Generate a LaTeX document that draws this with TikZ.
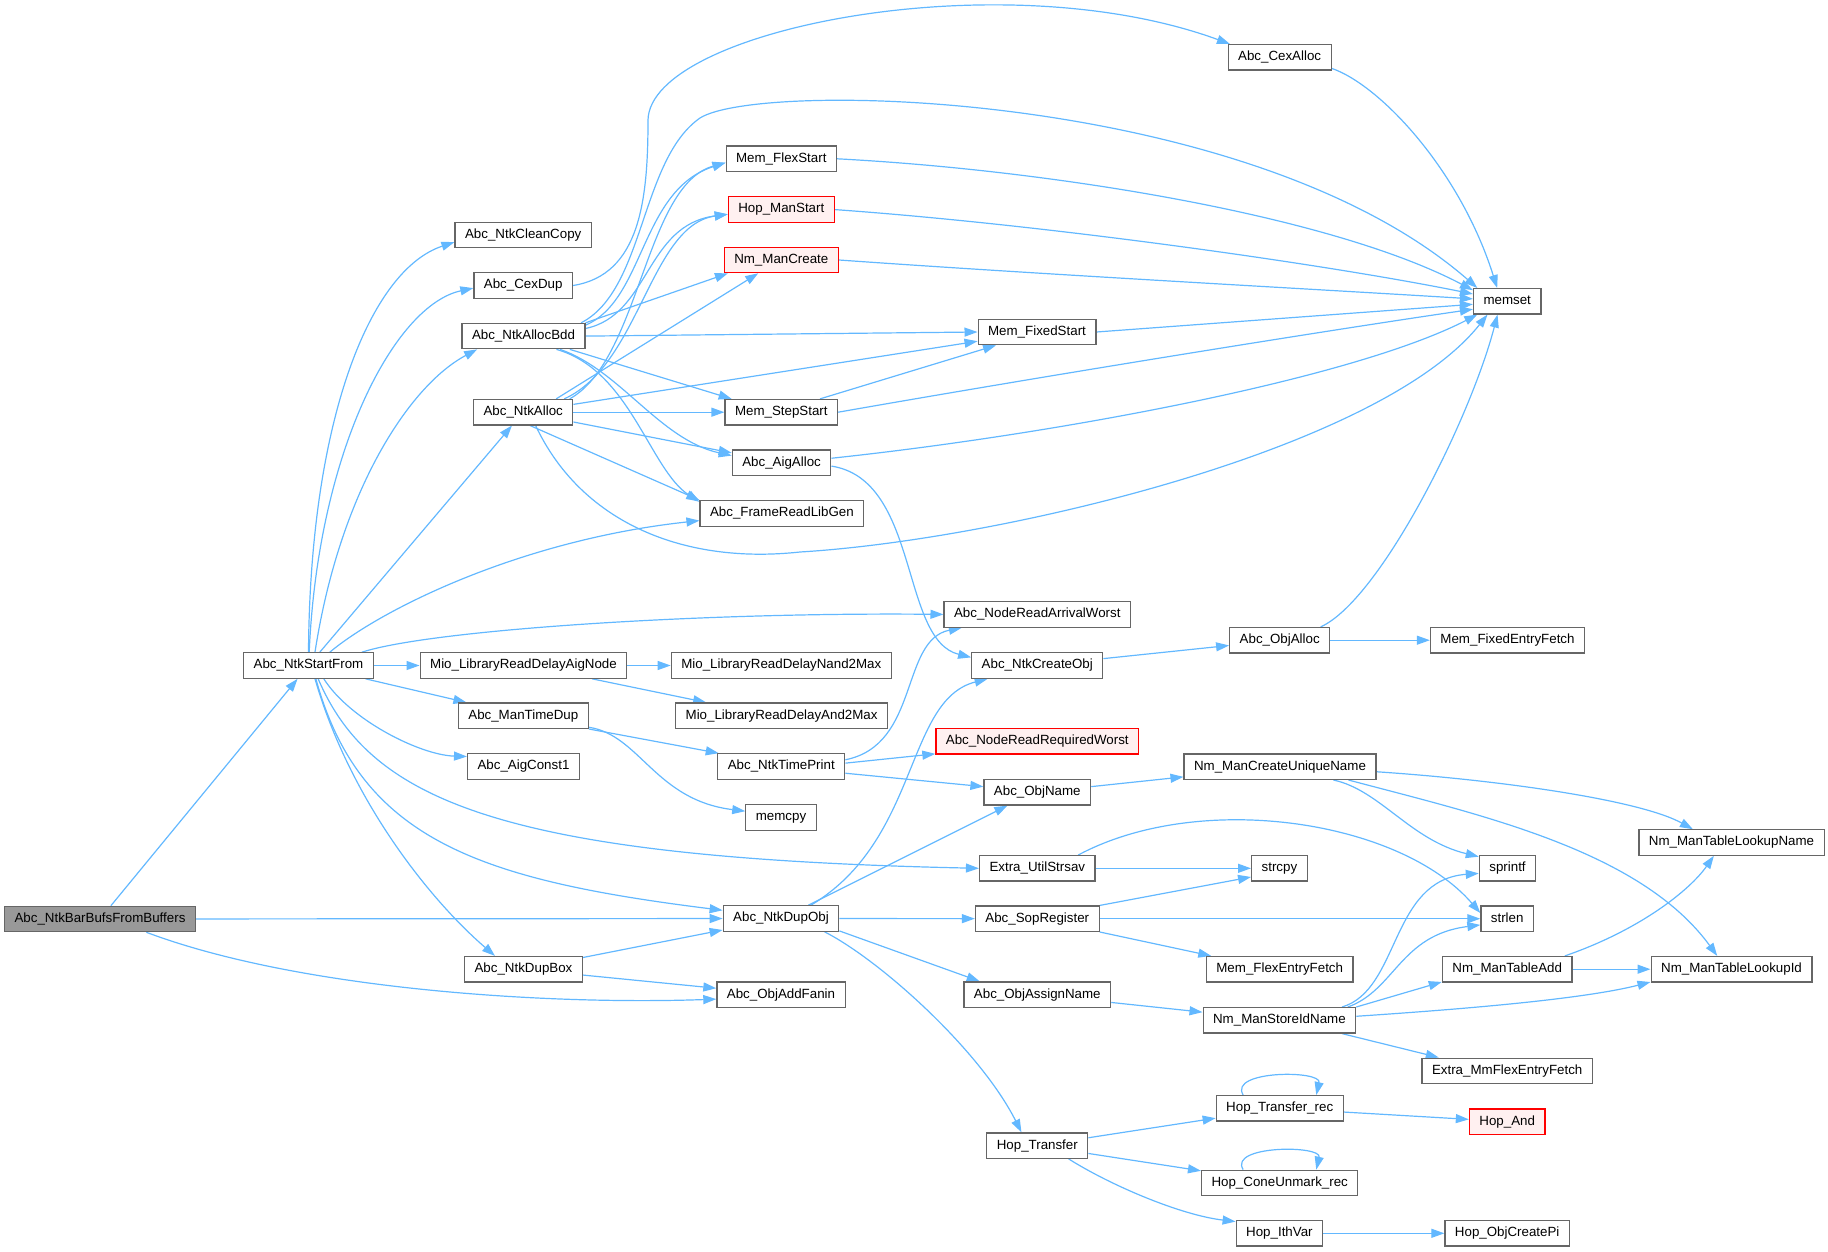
\documentclass[tikz,border=0pt]{standalone}
\usepackage{fontspec}
\usepackage{tikz}
\usetikzlibrary{arrows.meta,backgrounds}
\newfontfamily\graphfont{Liberation Sans}
\definecolor{Wire}{HTML}{63B8FF}
\definecolor{Frame}{HTML}{666666}
\definecolor{Root}{HTML}{999999}
\definecolor{Alert}{HTML}{FF0000}
\definecolor{Blush}{HTML}{FFF0F0}
\begin{document}
\begin{tikzpicture}[x=1pt,y=-1pt,
  fn/.style={draw=Frame,fill=white,line width=1.2pt,inner xsep=10pt,inner ysep=0pt,minimum height=25.4pt,text height=9.6pt,text depth=2.8pt,font=\graphfont\fontsize{13.33}{16}\selectfont},
  rootfn/.style={fn,fill=Root},
  warnfn/.style={fn,draw=Alert,fill=Blush},
  call/.style={draw=Wire,line width=1.2pt,-{Triangle[length=13pt,width=9pt]}}]
\useasboundingbox (0,0) rectangle (1828,1252);
\node[rootfn] (barbufs) at (100,919) {Abc\_NtkBarBufsFromBuffers};
\node[fn] (startfrom) at (308.5,665.5) {Abc\_NtkStartFrom};
\node[fn] (cleancopy) at (523.2,234.9) {Abc\_NtkCleanCopy};
\node[fn] (cexdup) at (523.2,285.5) {Abc\_CexDup};
\node[fn] (allocbdd) at (523.5,336.1) {Abc\_NtkAllocBdd};
\node[fn] (ntkalloc) at (523.2,412.2) {Abc\_NtkAlloc};
\node[fn] (aignode) at (523.5,665.5) {Mio\_LibraryReadDelayAigNode};
\node[fn] (timedup) at (523.3,715.7) {Abc\_ManTimeDup};
\node[fn] (aigconst) at (523.5,766.5) {Abc\_AigConst1};
\node[fn] (dupbox) at (523.5,969.2) {Abc\_NtkDupBox};
\node[fn] (flexstart) at (781.3,158.8) {Mem\_FlexStart};
\node[warnfn] (hopman) at (781.3,209.6) {Hop\_ManStart};
\node[warnfn] (nmcreate) at (781.3,260) {Nm\_ManCreate};
\node[fn] (stepstart) at (781.3,412.2) {Mem\_StepStart};
\node[fn] (aigalloc) at (781.6,462.6) {Abc\_AigAlloc};
\node[fn] (libgen) at (781.9,513.4) {Abc\_FrameReadLibGen};
\node[fn] (nand2max) at (781.3,665.5) {Mio\_LibraryReadDelayNand2Max};
\node[fn] (and2max) at (781.6,715.7) {Mio\_LibraryReadDelayAnd2Max};
\node[fn] (timeprint) at (781.3,766.5) {Abc\_NtkTimePrint};
\node[fn] (memcpy) at (781,817.5) {memcpy};
\node[fn] (dupobj) at (781,918.5) {Abc\_NtkDupObj};
\node[fn] (addfanin) at (781,994.6) {Abc\_ObjAddFanin};
\node[fn] (fixedstart) at (1037,332) {Mem\_FixedStart};
\node[fn] (arrival) at (1037.3,614.4) {Abc\_NodeReadArrivalWorst};
\node[fn] (createobj) at (1037.3,665.5) {Abc\_NtkCreateObj};
\node[warnfn] (required) at (1037.3,741.3) {Abc\_NodeReadRequiredWorst};
\node[fn] (objname) at (1037.3,792.3) {Abc\_ObjName};
\node[fn] (strsav) at (1037.3,868.3) {Extra\_UtilStrsav};
\node[fn] (sopreg) at (1037.3,918.7) {Abc\_SopRegister};
\node[fn] (assignname) at (1037.3,994.6) {Abc\_ObjAssignName};
\node[fn] (transfer) at (1037.3,1145.6) {Hop\_Transfer};
\node[fn] (cexalloc) at (1279.6,57.3) {Abc\_CexAlloc};
\node[fn] (objalloc) at (1279.7,640.2) {Abc\_ObjAlloc};
\node[fn] (uniquename) at (1280,766.7) {Nm\_ManCreateUniqueName};
\node[fn] (strcpy) at (1279.4,868.3) {strcpy};
\node[fn] (flexentry) at (1279.7,969.2) {Mem\_FlexEntryFetch};
\node[fn] (storeid) at (1279.4,1020.3) {Nm\_ManStoreIdName};
\node[fn] (transferrec) at (1279.7,1108.3) {Hop\_Transfer\_rec};
\node[fn] (coneunmark) at (1279.7,1182.9) {Hop\_ConeUnmark\_rec};
\node[fn] (ithvar) at (1279.4,1233.3) {Hop\_IthVar};
\node[fn] (memset) at (1507.2,301.3) {memset};
\node[fn] (fixedentry) at (1507.5,640.2) {Mem\_FixedEntryFetch};
\node[fn] (sprintf) at (1507.5,868.3) {sprintf};
\node[fn] (strlen) at (1507.2,918.7) {strlen};
\node[fn] (tableadd) at (1507.2,969.2) {Nm\_ManTableAdd};
\node[fn] (mmflex) at (1507.2,1070.8) {Extra\_MmFlexEntryFetch};
\node[warnfn] (hopand) at (1507.2,1121.6) {Hop\_And};
\node[fn] (createpi) at (1507.2,1233.3) {Hop\_ObjCreatePi};
\node[fn] (lookupname) at (1731.5,842.5) {Nm\_ManTableLookupName};
\node[fn] (lookupid) at (1731.5,969.2) {Nm\_ManTableLookupId};
\begin{scope}[on background layer]
\draw[call] (barbufs) -- (startfrom);
\draw[call] (barbufs) -- (dupobj);
\draw[call] (barbufs.-16) .. controls (300,990) and (550,1005) .. (addfanin.184);
\draw[call] (startfrom.north) .. controls (310,420) and (370,270) .. (cleancopy.186);
\draw[call] (startfrom.87) .. controls (318,450) and (395,305) .. (cexdup.183);
\draw[call] (startfrom.64) .. controls (340,490) and (410,385) .. (allocbdd.196);
\draw[call] (startfrom) -- (ntkalloc);
\draw[call] (startfrom.32) .. controls (380,610) and (520,540) .. (libgen.185);
\draw[call] (startfrom.14) .. controls (430,630) and (700,612) .. (arrival.west);
\draw[call] (startfrom) -- (aignode);
\draw[call] (startfrom) -- (timedup);
\draw[call] (startfrom.-41) .. controls (350,720) and (420,755) .. (aigconst.170);
\draw[call] (startfrom.-54) .. controls (370,800) and (500,858) .. (strsav.west);
\draw[call] (startfrom.-61) .. controls (360,840) and (480,880) .. (dupobj.172);
\draw[call] (startfrom.-64) .. controls (350,800) and (430,900) .. (dupbox.155);
\draw[call] (cexdup.east) .. controls (640,275) and (648,200) .. (648,120) .. controls (650,30) and (1000,-40) .. (cexalloc.165);
\draw[call] (cexalloc.-12) .. controls (1380,85) and (1460,170) .. (memset.127);
\draw[call] (allocbdd.10) .. controls (645,300) and (640,190) .. (flexstart.184);
\draw[call] (allocbdd.7) .. controls (650,315) and (645,225) .. (hopman.185);
\draw[call] (allocbdd.north east) -- (nmcreate.194);
\draw[call] (allocbdd.13) .. controls (645,290) and (640,160) .. (700,118) .. controls (760,80) and (1250,90) .. (memset.156);
\draw[call] (allocbdd.east) -- (fixedstart.west);
\draw[call] (allocbdd.-16) -- (stepstart.165);
\draw[call] (allocbdd.-20) .. controls (620,370) and (660,440) .. (aigalloc.172);
\draw[call] (allocbdd.-22) .. controls (630,370) and (650,470) .. (libgen.172);
\draw[call] (ntkalloc.16) .. controls (640,360) and (645,185) .. (flexstart.184);
\draw[call] (ntkalloc.18) .. controls (640,365) and (650,225) .. (hopman.185);
\draw[call] (ntkalloc.22) -- (nmcreate.210);
\draw[call] (ntkalloc) -- (fixedstart);
\draw[call] (ntkalloc) -- (stepstart);
\draw[call] (ntkalloc) -- (aigalloc);
\draw[call] (ntkalloc.-63) -- (libgen.north west);
\draw[call] (ntkalloc.-47) .. controls (580,520) and (680,565) .. (800,552) .. controls (1000,540) and (1380,450) .. (memset.214);
\draw[call] (flexstart.east) .. controls (1050,170) and (1330,215) .. (memset.162);
\draw[call] (hopman.east) .. controls (1050,225) and (1330,265) .. (memset.168);
\draw[call] (nmcreate.east) .. controls (1050,275) and (1330,290) .. (memset.176);
\draw[call] (fixedstart.east) -- (memset.185);
\draw[call] (stepstart.19) -- (fixedstart.198);
\draw[call] (stepstart.east) .. controls (1050,375) and (1330,330) .. (memset.193);
\draw[call] (aigalloc.5) .. controls (1050,435) and (1350,380) .. (memset.204);
\draw[call] (aigalloc.-4) .. controls (920,480) and (900,640) .. (createobj.173);
\draw[call] (createobj) -- (objalloc);
\draw[call] (objalloc) -- (fixedentry);
\draw[call] (objalloc.18) .. controls (1380,600) and (1470,420) .. (memset.234);
\draw[call] (aignode) -- (nand2max);
\draw[call] (aignode.-11) -- (and2max.170);
\draw[call] (timedup.south east) -- (timeprint.168);
\draw[call] (timedup.-10) .. controls (640,735) and (655,800) .. (memcpy.170);
\draw[call] (timeprint.6) .. controls (920,745) and (900,640) .. (arrival.190);
\draw[call] (timeprint.3) -- (required.187);
\draw[call] (timeprint.-6) -- (objname.174);
\draw[call] (objname) -- (uniquename);
\draw[call] (uniquename.-3) .. controls (1500,780) and (1640,800) .. (lookupname.161);
\draw[call] (uniquename.-14) .. controls (1380,790) and (1410,840) .. (sprintf.158);
\draw[call] (uniquename.-11) .. controls (1480,815) and (1640,850) .. (lookupid.137);
\draw[call] (strsav) -- (strcpy);
\draw[call] (strsav.18) .. controls (1200,790) and (1400,820) .. (strlen.168);
\draw[call] (sopreg.12) -- (strcpy.197);
\draw[call] (sopreg) -- (strlen);
\draw[call] (sopreg.south east) -- (flexentry.169);
\draw[call] (assignname) -- (storeid);
\draw[call] (storeid.12) .. controls (1400,990) and (1390,880) .. (sprintf.190);
\draw[call] (storeid.11) .. controls (1395,990) and (1400,935) .. (strlen.193);
\draw[call] (storeid.north east) -- (tableadd.191);
\draw[call] (storeid.3) .. controls (1450,1010) and (1580,1000) .. (lookupid.189);
\draw[call] (storeid.-12) -- (mmflex.169);
\draw[call] (tableadd.13) .. controls (1640,930) and (1690,890) .. (lookupname.217);
\draw[call] (tableadd) -- (lookupid);
\draw[call] (dupbox) -- (dupobj);
\draw[call] (dupbox) -- (addfanin);
\draw[call] (dupobj.24) .. controls (920,840) and (905,700) .. (createobj.195);
\draw[call] (dupobj.26) -- (objname.204);
\draw[call] (dupobj) -- (sopreg);
\draw[call] (dupobj.-12) -- (assignname.167);
\draw[call] (dupobj.-17) .. controls (880,960) and (980,1050) .. (transfer.140);
\draw[call] (transfer) -- (transferrec);
\draw[call] (transfer) -- (coneunmark);
\draw[call] (transfer.-23) .. controls (1110,1185) and (1180,1215) .. (ithvar.165);
\draw[call] (transferrec.160) .. controls (1228,1070) and (1322,1070) .. (transferrec.20);
\draw[call] (transferrec) -- (hopand);
\draw[call] (coneunmark.160) .. controls (1228,1145) and (1322,1145) .. (coneunmark.20);
\draw[call] (ithvar) -- (createpi);
\end{scope}
\end{tikzpicture}
\end{document}
